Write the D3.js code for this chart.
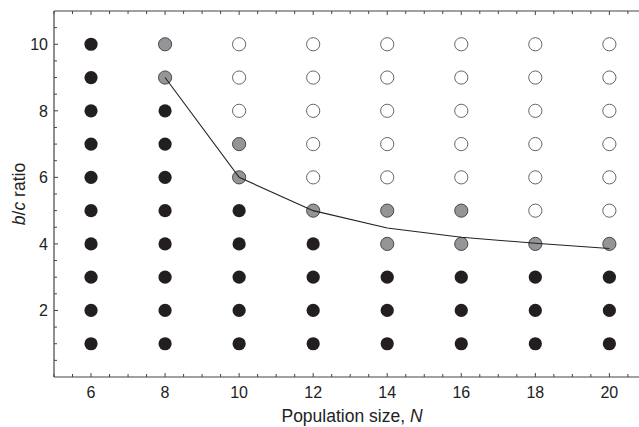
<!DOCTYPE html>
<html>
<head>
<meta charset="utf-8">
<script src="https://cdn.jsdelivr.net/npm/d3@7"></script>
<style>
  body { margin: 0; background: #fff; }
  svg { display: block; font-family: 'Liberation Sans', Arial, sans-serif; }
</style>
</head>
<body>
<svg id="chart" width="639" height="427"></svg>
<script>
// population sizes on x, b/c ratios on y
var sizes = [6, 8, 10, 12, 14, 16, 18, 20]
var ratios = [1, 2, 3, 4, 5, 6, 7, 8, 9, 10]

// outcome per column, bottom (b/c = 1) to top (b/c = 10)
// 'b' = black, 'g' = grey, 'w' = open
var outcome = {
  6: 'bbbbbbbbbb',
  8: 'bbbbbbbbgg',
  10: 'bbbbbggwww',
  12: 'bbbbgwwwww',
  14: 'bbbggwwwww',
  16: 'bbbggwwwww',
  18: 'bbbgwwwwww',
  20: 'bbbgwwwwww'
}

// threshold curve
var curveN = [8, 10, 12, 14, 16, 18, 20]
var curveBC = [9, 6, 5, 4.48, 4.2, 4.02, 3.86]

var xTicks = [6, 8, 10, 12, 14, 16, 18, 20]
var yTicks = [2, 4, 6, 8, 10]

var svg = d3.select('#chart')
var mLeft = 54, mRight = 639, mTop = 11, mBottom = 377

var x = d3.scaleLinear().domain([5, 20.8]).range([mLeft, mRight])
var y = d3.scaleLinear().domain([0, 11]).range([mBottom, mTop])

var minorX = d3.range(5, 20.8, 0.5)
var minorY = d3.range(0.5, 11, 0.5)

var axisColor = '#444'

// frame lines
svg.append('line').attr('x1', mLeft).attr('x2', mRight).attr('y1', mBottom).attr('y2', mBottom)
  .attr('stroke', axisColor).attr('stroke-width', 1.2)
svg.append('line').attr('x1', mLeft).attr('x2', mRight).attr('y1', mTop).attr('y2', mTop)
  .attr('stroke', axisColor).attr('stroke-width', 1.2)
svg.append('line').attr('x1', mLeft).attr('x2', mLeft).attr('y1', mTop).attr('y2', mBottom)
  .attr('stroke', axisColor).attr('stroke-width', 1.2)

// inward ticks
var ticks = svg.append('g').attr('stroke', axisColor).attr('stroke-width', 1)
minorX.forEach(function (v) {
  var len = v % 2 === 0 ? 4 : 3
  ticks.append('line').attr('x1', x(v)).attr('x2', x(v)).attr('y1', mBottom).attr('y2', mBottom - len)
  ticks.append('line').attr('x1', x(v)).attr('x2', x(v)).attr('y1', mTop).attr('y2', mTop + len)
})
minorY.forEach(function (v) {
  var len = v % 2 === 0 ? 4 : 3
  ticks.append('line').attr('x1', mLeft).attr('x2', mLeft + len).attr('y1', y(v)).attr('y2', y(v))
})

// tick labels
svg.append('g').selectAll('text').data(xTicks).enter().append('text')
  .attr('x', d => x(d)).attr('y', 398)
  .attr('text-anchor', 'middle').attr('font-size', 16).attr('fill', '#222')
  .text(d => d)

svg.append('g').selectAll('text').data(yTicks).enter().append('text')
  .attr('x', 48).attr('y', d => y(d) + 6)
  .attr('text-anchor', 'end').attr('font-size', 16).attr('fill', '#222')
  .text(d => d)

// axis titles
var xt = svg.append('text').attr('x', 352).attr('y', 422)
  .attr('text-anchor', 'middle').attr('font-size', 17.5).attr('fill', '#222')
xt.append('tspan').text('Population size, ')
xt.append('tspan').attr('font-style', 'italic').text('N')

var yt = svg.append('text')
  .attr('transform', 'translate(25,' + ((mTop + mBottom) / 2) + ') rotate(-90)')
  .attr('text-anchor', 'middle').attr('font-size', 17.5).attr('fill', '#222')
yt.append('tspan').attr('font-style', 'italic').text('b')
yt.append('tspan').text('/')
yt.append('tspan').attr('font-style', 'italic').text('c')
yt.append('tspan').text(' ratio')

// points
var pts = []
sizes.forEach(function (n) {
  ratios.forEach(function (r, i) {
    pts.push({ n: n, r: r, k: outcome[n][i] })
  })
})

var fill = { b: '#231f20', g: '#939598', w: '#ffffff' }
var stroke = { b: '#231f20', g: '#3a3a3a', w: '#555' }

svg.append('g').selectAll('circle').data(pts).enter().append('circle')
  .attr('cx', d => x(d.n)).attr('cy', d => y(d.r)).attr('r', 6.6)
  .attr('fill', d => fill[d.k]).attr('stroke', d => stroke[d.k])
  .attr('stroke-width', d => d.k === 'b' ? 0 : 0.9)

// threshold line on top
var line = d3.line().x(d => x(d[0])).y(d => y(d[1]))
svg.append('path')
  .datum(curveN.map((n, i) => [n, curveBC[i]]))
  .attr('d', line).attr('fill', 'none')
  .attr('stroke', '#222').attr('stroke-width', 1.1)
</script>
</body>
</html>
